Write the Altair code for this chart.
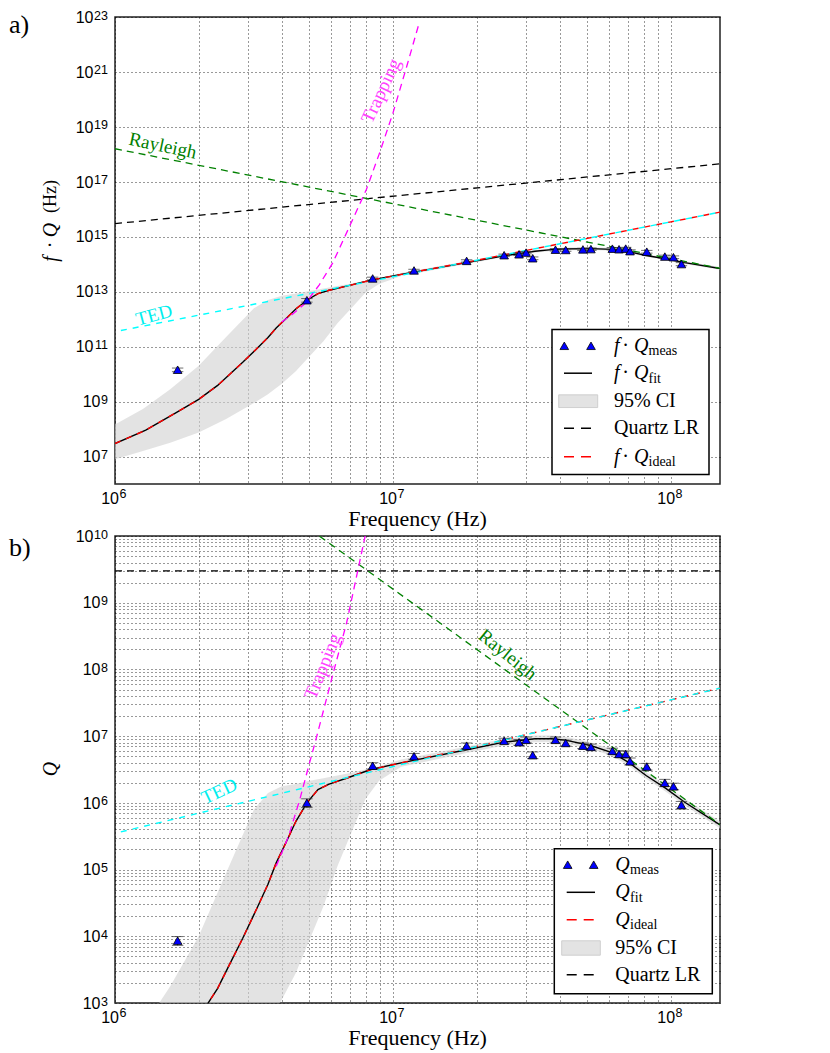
import altair as alt
import pandas as pd

# ---------------- data ----------------
# measured quality factors
MEAS_F = [1.68e6, 4.90e6, 8.45e6, 1.19e7, 1.84e7, 2.51e7, 2.84e7, 3.01e7, 3.18e7, 3.84e7,
          4.18e7, 4.82e7, 5.15e7, 6.15e7, 6.50e7, 6.87e7, 7.12e7, 8.18e7, 9.50e7, 1.02e8, 1.09e8]
MEAS_Q = [8.6e3, 1.0e6, 3.6e6, 5.0e6, 7.2e6, 8.5e6, 8.1e6, 8.8e6, 5.2e6, 8.8e6,
          7.9e6, 7.2e6, 6.9e6, 6.0e6, 5.4e6, 5.4e6, 4.2e6, 3.5e6, 2.0e6, 1.77e6, 9.3e5]
MEAS_ERR = [1.3e3, 1.5e5, 4e5, 5e5, 7e5, 8e5, 8e5, 9e5, 6e5, 9e5,
            8e5, 7e5, 7e5, 6e5, 6e5, 6e5, 5e5, 4e5, 2.5e5, 2e5, 1.2e5]

# fitted Q
FIT_F = [1.00e6, 1.29e6, 1.66e6, 2.00e6, 2.34e6, 2.57e6, 2.88e6, 3.24e6, 3.55e6, 3.80e6,
         4.17e6, 4.47e6, 4.90e6, 5.37e6, 5.89e6, 6.92e6, 8.32e6, 1.07e7, 1.86e7, 2.51e7,
         3.24e7, 3.72e7, 4.17e7, 5.13e7, 6.17e7, 7.08e7, 8.13e7, 9.55e7, 1.12e8, 1.50e8]
FIT_Q = [29.5, 70.8, 240, 603, 1.66e3, 3.63e3, 9.33e3, 2.63e4, 6.03e4, 1.26e5,
         2.82e5, 5.25e5, 1.00e6, 1.58e6, 1.91e6, 2.40e6, 3.16e6, 3.98e6, 6.31e6, 8.13e6,
         9.12e6, 9.12e6, 8.71e6, 7.24e6, 5.62e6, 3.98e6, 2.57e6, 1.66e6, 1.02e6, 4.68e5]

# ideal Q
IDEAL_F = [1.00e6, 1.29e6, 1.66e6, 2.00e6, 2.34e6, 2.57e6, 2.88e6, 3.24e6, 3.55e6, 3.80e6,
           4.17e6, 4.47e6, 4.90e6, 5.37e6, 5.89e6, 6.92e6, 8.32e6, 1.07e7, 1.86e7, 3.0e7,
           5.0e7, 1.0e8, 1.5e8]
IDEAL_Q = [29.5, 70.8, 240, 603, 1.66e3, 3.63e3, 9.33e3, 2.63e4, 6.03e4, 1.26e5,
           2.82e5, 5.25e5, 1.00e6, 1.58e6, 1.91e6, 2.40e6, 3.16e6, 3.98e6, 6.5e6, 1.05e7,
           1.75e7, 3.5e7, 5.25e7]

# 95 % confidence band of Q
BAND_F = [1.00e6, 1.26e6, 1.58e6, 2.00e6, 2.51e6, 3.16e6, 3.55e6, 3.98e6, 4.47e6, 5.01e6,
          5.62e6, 6.31e6, 7.08e6, 7.94e6, 8.91e6, 1.07e7, 1.86e7, 2.51e7, 3.24e7, 3.72e7,
          4.17e7, 5.13e7, 6.17e7, 7.08e7, 8.13e7, 9.55e7, 1.12e8, 1.50e8]
BAND_LO = [7.94, 12.6, 20.0, 37.2, 93.3, 282, 525, 1.12e3, 2.82e3, 8.91e3,
           2.82e4, 1.12e5, 3.55e5, 1.12e6, 2.14e6, 3.47e6, 5.62e6, 7.24e6, 8.13e6, 8.13e6,
           7.76e6, 6.46e6, 5.01e6, 3.55e6, 2.29e6, 1.48e6, 9.12e5, 4.17e5]
BAND_HI = [148, 427, 1.78e3, 1.00e4, 8.91e4, 7.94e5, 1.41e6, 1.78e6, 1.91e6, 2.14e6,
           2.34e6, 2.57e6, 2.82e6, 3.16e6, 3.55e6, 4.47e6, 7.08e6, 9.12e6, 1.02e7, 1.02e7,
           9.77e6, 8.13e6, 6.31e6, 4.47e6, 2.88e6, 1.86e6, 1.15e6, 5.25e5]

# loss-mechanism limits (Q)
TED_F, TED_Q = [1e6, 1.5e8], [3.5e5, 5.25e7]
RAY_F, RAY_Q = [1e6, 1.5e8], [1.6e12, 4.74e5]
LR_F, LR_Q = [1e6, 1.5e8], [3.0e9, 3.0e9]
# trapping limit as drawn in panel a (f*Q) and in panel b (Q)
TRAP_A_F = [3.98e6, 4.37e6, 4.86e6, 5.43e6, 6.07e6, 6.92e6, 8.02e6, 8.91e6, 1.00e7, 1.12e7, 1.24e7]
TRAP_A_FQ = [7.94e11, 1.58e12, 3.98e12, 1.78e13, 1.12e14, 2.0e15, 5.25e16, 1.0e18, 3.24e19, 1.58e21, 5.75e22]
TRAP_B_F = [3.80e6, 4.21e6, 4.62e6, 4.95e6, 5.32e6, 6.01e6, 6.81e6, 7.94e6]
TRAP_B_Q = [1.12e5, 3.16e5, 1.12e6, 3.31e6, 1.0e7, 7.08e7, 5.01e8, 1.0e10]

# tick-label exponents
X_EXPS = [6, 7, 8]
YA_EXPS = [7, 9, 11, 13, 15, 17, 19, 21, 23]
YB_EXPS = [3, 4, 5, 6, 7, 8, 9, 10]

# ---------------- styling helpers ----------------
SERIF = "Liberation Serif, Times New Roman, serif"
LSANS = "Liberation Sans, Arial, sans-serif"
W, H = 605, 467

X_VALS = [k * float(f"1e{n}") for n in (6, 7) for k in range(1, 10)] + [1e8]
X_SCALE = alt.Scale(type="log", domain=[1e6, 1.5e8], nice=False)
X_AXIS = alt.Axis(values=X_VALS, labels=False, title=None, grid=True)

YA_VALS = [float(f"1e{e}") for e in YA_EXPS]
YA_SCALE = alt.Scale(type="log", domain=[1e6, 1e23], nice=False)
YA_AXIS = alt.Axis(values=YA_VALS, labels=False, title=None, grid=True)

YB_VALS = [k * float(f"1e{n}") for n in range(3, 10) for k in range(1, 10)] + [1e10]
YB_SCALE = alt.Scale(type="log", domain=[1e3, 1e10], nice=False)
YB_AXIS = alt.Axis(values=YB_VALS, labels=False, title=None, grid=True)

ONE = alt.Chart(pd.DataFrame({"k": [0]}))


def xenc(field="f"):
    return alt.X(field, type="quantitative", scale=X_SCALE, axis=X_AXIS)


def yenc(mode, field="v"):
    ys, ya = (YA_SCALE, YA_AXIS) if mode == "a" else (YB_SCALE, YB_AXIS)
    return alt.Y(field, type="quantitative", scale=ys, axis=ya)


def enc(mode, field="v", field2=None):
    e = dict(x=xenc(), y=yenc(mode, field))
    if field2:
        e["y2"] = alt.Y2(field2)
    return e


def qchart(f, q, mode):
    df = pd.DataFrame({"f": f, "Q": q})
    return alt.Chart(df).transform_calculate(v="datum.f*datum.Q" if mode == "a" else "datum.Q")


def line(ch, mode, color, width=1.3, dash=None, offset=None):
    kw = dict(color=color, strokeWidth=width, clip=True)
    if dash:
        kw["strokeDash"] = dash
    if offset:
        kw["strokeDashOffset"] = offset
    return ch.mark_line(**kw).encode(**enc(mode))


def T(text, x, y, size=20, style="normal", color="black", align="left",
      baseline="middle", angle=None, font=SERIF):
    kw = dict(text=text, font=font, fontSize=size, fontStyle=style, fontWeight="normal",
              color=color, align=align, baseline=baseline)
    if angle is not None:
        kw["angle"] = angle
    return ONE.mark_text(**kw).encode(x=alt.value(x), y=alt.value(y))


def tri(x, y):
    return ONE.mark_point(shape="triangle-up", filled=True, fill="#0000ff", stroke="black",
                          strokeWidth=0.8, size=75, opacity=1).encode(x=alt.value(x), y=alt.value(y))


def hline(x1, x2, y, color, dash=None):
    kw = dict(color=color, strokeWidth=1.5)
    if dash:
        kw["strokeDash"] = dash
    return ONE.mark_rule(**kw).encode(x=alt.value(x1), x2=alt.value(x2), y=alt.value(y))


def box(x1, x2, y1, y2, fill, stroke, sw):
    return ONE.mark_rect(fill=fill, stroke=stroke, strokeWidth=sw).encode(
        x=alt.value(x1), x2=alt.value(x2), y=alt.value(y1), y2=alt.value(y2))


def math_label(kind, x, y, sub):
    """'fQ' or 'Q' italic text followed by an upright subscript."""
    out = []
    if kind == "fQ":
        out += [T("f", x, y, style="italic"), T("·", x + 11.5, y, align="center"),
                T("Q", x + 20, y, style="italic")]
        sx = x + 34.5
    else:
        out += [T("Q", x, y, style="italic")]
        sx = x + 14.8
    out.append(T(sub, sx, y + 9.5, size=14, baseline="alphabetic"))
    return out


def legend(kind, rows, bx, rows_y, tri_x, line_x, rect_x, rect_h, text_x):
    layers = [box(bx[0], bx[1], bx[2], bx[3], "white", "black", 1.5)]
    for (sym, label, sub), y in zip(rows, rows_y):
        if sym == "tri":
            layers += [tri(tri_x[0], y), tri(tri_x[1], y)]
        elif sym == "solid":
            layers.append(hline(line_x[0], line_x[1], y, "black"))
        elif sym == "dashk":
            layers.append(hline(line_x[0], line_x[1], y, "black", [10, 7]))
        elif sym == "dashr":
            layers.append(hline(line_x[0], line_x[1], y, "red", [10, 7]))
        elif sym == "rect":
            layers.append(box(rect_x[0], rect_x[1], y - rect_h / 2, y + rect_h / 2,
                              "#e3e3e3", "#cfcfcf", 1))
        if sub:
            layers += math_label(kind, text_x, y, sub)
        else:
            layers.append(T(label, text_x, y))
    return layers


def tick_labels(mode, exps):
    """Power-of-ten tick labels: '10' plus a raised exponent."""
    out = []
    vals = [float(f"1e{e}") for e in exps]
    for nd in (1, 2):
        sel = [(v, str(e)) for v, e in zip(vals, exps) if len(str(e)) == nd]
        if not sel:
            continue
        df = pd.DataFrame({"v": [s[0] for s in sel], "e": [s[1] for s in sel]})
        ch = alt.Chart(df)
        wexp = 7.0 * nd
        out.append(ch.mark_text(text="10", font=LSANS, fontSize=16, align="right",
                                baseline="alphabetic", dy=5.7, color="black").encode(
            x=alt.value(-7 - wexp - 0.5), y=yenc(mode, "v")))
        out.append(ch.mark_text(font=LSANS, fontSize=12.5, align="right",
                                baseline="alphabetic", dy=2.5, color="black").encode(
            x=alt.value(-7), y=yenc(mode, "v"), text=alt.Text("e:N")))
    dfx = pd.DataFrame({"f": [float(f"1e{e}") for e in X_EXPS], "e": [str(e) for e in X_EXPS]})
    chx = alt.Chart(dfx)
    out.append(chx.mark_text(text="10", font=LSANS, fontSize=16, align="right",
                             baseline="alphabetic", dx=4, color="black").encode(
        x=xenc("f"), y=alt.value(H + 19.5)))
    out.append(chx.mark_text(font=LSANS, fontSize=12.5, align="left",
                             baseline="alphabetic", dx=4.5, color="black").encode(
        x=xenc("f"), y=alt.value(H + 14), text=alt.Text("e:N")))
    out.append(T("Frequency  (Hz)", W / 2, H + 41.5, size=22, align="center", baseline="alphabetic"))
    return out


def panel(mode):
    layers = []
    # confidence band
    band_df = pd.DataFrame({"f": BAND_F, "lo": BAND_LO, "hi": BAND_HI})
    if mode == "a":
        band = alt.Chart(band_df).transform_calculate(vlo="datum.f*datum.lo", vhi="datum.f*datum.hi")
    else:
        band = alt.Chart(band_df).transform_calculate(vlo="datum.lo", vhi="datum.hi")
    layers.append(band.mark_area(color="#d2d2d2", opacity=0.62, clip=True).encode(**enc(mode, "vlo", "vhi")))
    # model lines
    layers.append(line(qchart(FIT_F, FIT_Q, mode), mode, "black", 1.4))
    layers.append(line(qchart(LR_F, LR_Q, mode), mode, "black", 1.3, [7, 5]))
    layers.append(line(qchart(RAY_F, RAY_Q, mode), mode, "#008000", 1.3, [7, 5]))
    layers.append(line(qchart(IDEAL_F, IDEAL_Q, mode), mode, "red", 1.4, [6, 6]))
    layers.append(line(qchart(TED_F, TED_Q, mode), mode, "#00ffff", 1.4, [6, 6], 6))
    if mode == "a":
        trap = alt.Chart(pd.DataFrame({"f": TRAP_A_F, "v": TRAP_A_FQ}))
    else:
        trap = alt.Chart(pd.DataFrame({"f": TRAP_B_F, "v": TRAP_B_Q}))
    layers.append(line(trap, mode, "#ff00ff", 1.3, [7, 5]))
    # measured points with error bars
    meas = alt.Chart(pd.DataFrame({"f": MEAS_F, "Q": MEAS_Q, "err": MEAS_ERR}))
    if mode == "a":
        meas = meas.transform_calculate(v="datum.f*datum.Q", vlo="datum.f*(datum.Q-datum.err)",
                                        vhi="datum.f*(datum.Q+datum.err)")
    else:
        meas = meas.transform_calculate(v="datum.Q", vlo="datum.Q-datum.err", vhi="datum.Q+datum.err")
    layers.append(meas.mark_rule(color="#333333", strokeWidth=1, clip=True).encode(**enc(mode, "vlo", "vhi")))
    layers.append(meas.mark_point(shape="stroke", size=130, color="#333333", strokeWidth=1,
                                  clip=True).encode(**enc(mode, "vlo")))
    layers.append(meas.mark_point(shape="stroke", size=130, color="#333333", strokeWidth=1,
                                  clip=True).encode(**enc(mode, "vhi")))
    layers.append(meas.mark_point(shape="triangle-up", filled=True, fill="#0000ff", stroke="black",
                                  strokeWidth=0.8, size=75, opacity=1, clip=True).encode(**enc(mode)))

    if mode == "a":
        layers += [
            T("a)", -106, 7.5, size=26),
            T("Rayleigh", 47.7, 128.8, size=19, color="#008000", align="center", angle=12),
            T("TED", 39, 298.2, size=19, color="#00eeee", align="center", angle=345),
            T("Trapping", 266, 73.8, size=19, color="#ff44ff", align="center", angle=295),
            T("(Hz)", -64, 179.5, size=18, align="center", angle=270),
            T("Q", -64, 213, style="italic", align="center", angle=270),
            T("·", -64, 228, align="center", angle=270),
            T("f", -64, 242, style="italic", align="center", angle=270),
        ]
        rows = [("tri", None, "meas"), ("solid", None, "fit"), ("rect", "95% CI", None),
                ("dashk", "Quartz LR", None), ("dashr", None, "ideal")]
        layers += legend("fQ", rows, (437, 594, 312.5, 457.5),
                         [328.8, 356.2, 384.2, 411.2, 439.8],
                         (449.3, 476), (449, 477), (443.7, 482.7), 12.7, 499)
        layers += tick_labels("a", YA_EXPS)
    else:
        layers += [
            T("b)", -106, 12, size=26),
            T("Rayleigh", 392.7, 118.7, size=19, color="#008000", align="center", angle=39),
            T("TED", 104.3, 255.3, size=19, color="#00eeee", align="center", angle=335),
            T("Trapping", 207.7, 130.3, size=19, color="#ff44ff", align="center", angle=292),
            T("Q", -64, 233, style="italic", align="center", angle=270),
        ]
        rows = [("tri", None, "meas"), ("solid", None, "fit"), ("dashr", None, "ideal"),
                ("rect", "95% CI", None), ("dashk", "Quartz LR", None)]
        layers += legend("Q", rows, (439.3, 597.3, 312.7, 457.7),
                         [328.7, 356.3, 383.7, 412, 438.7],
                         (452.7, 478.7), (451.7, 480), (446.7, 485.3), 14.4, 500.3)
        layers += tick_labels("b", YB_EXPS)
    return alt.layer(*layers).properties(width=W, height=H)


chart = alt.vconcat(panel("a"), panel("b"), spacing=52, bounds="flush").properties(
    padding=0, background="white"
).configure_view(
    stroke="#222222", strokeWidth=1.5
).configure_axis(
    gridColor="black", gridOpacity=0.8, gridDash=[1, 3], gridWidth=1,
    ticks=False, domain=False,
)

chart.save("out.html", embed_options={"renderer": "svg", "actions": False})
